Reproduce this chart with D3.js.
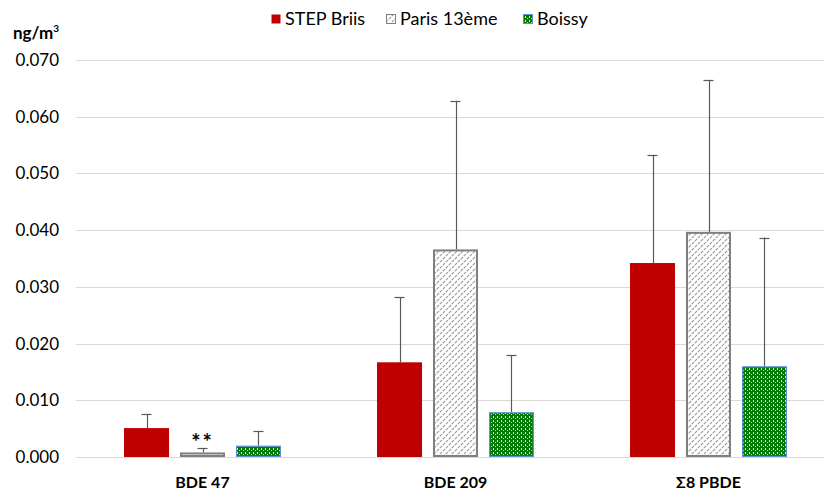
<!DOCTYPE html>
<html><head><meta charset="utf-8">
<script src="https://cdn.jsdelivr.net/npm/d3@7"></script>
<style>body{margin:0;background:#fff;} svg{display:block;font-family:Lato,"Open Sans",sans-serif;}</style>
</head><body><svg id="c" width="824" height="490"></svg>
<script>
const categories = ["BDE 47", "BDE 209", "\u03A38 PBDE"];
const seriesNames = ["STEP Briis", "Paris 13\u00e8me", "Boissy"];
const stepBriis = [0.0051, 0.0167, 0.0342];
const paris13 = [0.0008, 0.0366, 0.0397];
const boissy = [0.0020, 0.0079, 0.0160];
const stepBriisErr = [0.0076, 0.0282, 0.0533];
const paris13Err = [0.0015, 0.0628, 0.0665];
const boissyErr = [0.0045, 0.0180, 0.0387];
const yTicks = [0, 0.01, 0.02, 0.03, 0.04, 0.05, 0.06, 0.07];
const annotation = "**";

const values = [stepBriis, paris13, boissy];
const errs = [stepBriisErr, paris13Err, boissyErr];

const svg = d3.select("#c");
const defs = svg.append("defs");
const ph = defs.append("pattern").attr("id","hatch").attr("patternUnits","userSpaceOnUse")
  .attr("width",6).attr("height",6);
ph.append("rect").attr("width",6).attr("height",6).attr("fill","#fff");
ph.append("path").attr("d","M-1,7 L7,-1 M-4,4 L4,-4 M2,10 L10,2")
  .attr("stroke","#9a9a9a").attr("stroke-width",1.1).attr("stroke-dasharray","3,1");
const pg = defs.append("pattern").attr("id","dots").attr("patternUnits","userSpaceOnUse")
  .attr("width",4).attr("height",4);
pg.append("rect").attr("width",4).attr("height",4).attr("fill","#007a00");
pg.append("rect").attr("x",1).attr("y",0).attr("width",1).attr("height",2).attr("fill","#d8f0d8");
pg.append("rect").attr("x",3).attr("y",2).attr("width",1).attr("height",1).attr("fill","#b8e0b8");

const fills = ["#C00000", "url(#hatch)", "url(#dots)"];
const strokes = ["none", "#7f7f7f", "#5b8fd0"];
const strokeW = [0, 2, 1.2];

const x0 = d3.scaleBand().domain(categories).range([76, 835]).paddingInner(0).paddingOuter(0);
const x1 = d3.scaleBand().domain(seriesNames).range([48, 205]).paddingInner(0.196).paddingOuter(0);
const y = d3.scaleLinear().domain([0, 0.07]).range([457, 60]);

svg.append("g").selectAll("line").data(yTicks).join("line")
  .attr("x1",76).attr("x2",824).attr("y1",d=>Math.round(y(d))+0.5).attr("y2",d=>Math.round(y(d))+0.5)
  .attr("stroke","#d9d9d9").attr("stroke-width",1);

const yAxis = d3.axisLeft(y).tickValues(yTicks).tickFormat(d3.format(".3f")).tickSize(0).tickPadding(0);
const ga = svg.append("g").attr("transform","translate(59,0)").call(yAxis);
ga.select(".domain").remove();
ga.selectAll("text").attr("font-size",17).attr("fill","#000").attr("font-family","Lato,'Open Sans',sans-serif");

const ul = svg.append("text").attr("x",13).attr("y",39).attr("font-size",17).attr("font-weight","bold").attr("fill","#000");
ul.append("tspan").text("ng/m");
ul.append("tspan").attr("font-size",10).attr("dy",-7).text("3");

seriesNames.forEach((s, si) => {
  const g = svg.append("g");
  categories.forEach((c, ci) => {
    const v = values[si][ci];
    const bx = x0(c) + x1(s);
    const bw = x1.bandwidth();
    const cx = bx + bw/2;
    g.append("line").attr("x1",Math.round(cx)+0.5).attr("x2",Math.round(cx)+0.5)
      .attr("y1",y(errs[si][ci])).attr("y2",y(v)).attr("stroke","#595959").attr("stroke-width",1.2);
    g.append("line").attr("x1",cx-5).attr("x2",cx+5)
      .attr("y1",Math.round(y(errs[si][ci]))+0.5).attr("y2",Math.round(y(errs[si][ci]))+0.5)
      .attr("stroke","#595959").attr("stroke-width",1.2);
    const sw = strokeW[si];
    g.append("rect").attr("x",bx+sw/2).attr("y",y(v)+sw/2).attr("width",bw-sw).attr("height",Math.max(0,y(0)-y(v)-sw))
      .attr("fill",fills[si]).attr("stroke",strokes[si]).attr("stroke-width",sw);
  });
});

svg.append("text").attr("x", x0(categories[0]) + x1(seriesNames[1]) + x1.bandwidth()/2)
  .attr("y", y(paris13Err[0]) + 2).attr("text-anchor","middle").attr("font-size",22).attr("font-weight","bold")
  .attr("letter-spacing",2).text(annotation);

const xAxis = d3.axisBottom(x0).tickSize(0).tickPadding(0);
const gx = svg.append("g").attr("transform","translate(0,477)").call(xAxis);
gx.select(".domain").remove();
gx.selectAll("text").attr("font-size",16).attr("font-weight","bold").attr("fill","#000")
  .attr("font-family","Lato,'Open Sans',sans-serif");

const legX = [271, 386, 523];
const leg = svg.append("g");
seriesNames.forEach((s, i) => {
  leg.append("rect").attr("x",legX[i]+0.5).attr("y",14.5).attr("width",9).attr("height",9)
    .attr("fill",fills[i]).attr("stroke", i===0?"none":strokes[i]).attr("stroke-width",1);
  leg.append("text").attr("x",legX[i]+14).attr("y",25).attr("font-size",18).attr("fill","#000").text(s);
});
</script></body></html>
